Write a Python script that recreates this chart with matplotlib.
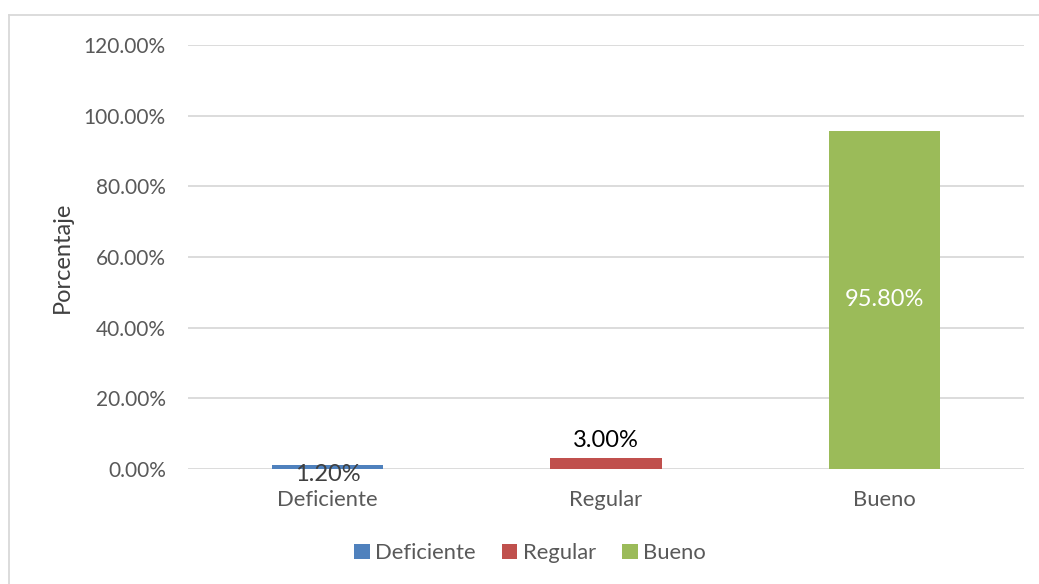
import matplotlib
matplotlib.use("Agg")
import matplotlib.pyplot as plt
from matplotlib.lines import Line2D
from matplotlib.patches import Patch

categories = ["Deficiente", "Regular", "Bueno"]
values = [1.20, 3.00, 95.80]
colors = ["#4F81BD", "#C0504D", "#9BBB59"]
yticks = [0, 20, 40, 60, 80, 100, 120]

plt.rcParams["font.family"] = ["Lato", "DejaVu Sans"]
text_color = "#595959"

fig = plt.figure(figsize=(10.39, 5.84), dpi=100)
ax = fig.add_axes([188 / 1039, 1 - 469 / 584, (1024 - 188) / 1039, (469 - 45) / 584])

x = list(range(len(categories)))
bars = ax.bar(x, values, width=0.40, color=colors, zorder=3)

ax.set_xlim(-0.5, 2.5)
ax.set_ylim(0, 120)
ax.set_yticks(yticks)
ax.set_yticklabels([f"{v:.2f}%" for v in yticks], color=text_color, fontsize=15)
ax.set_xticks(x)
ax.set_xticklabels(categories, color=text_color, fontsize=15.8)
ax.tick_params(axis="both", length=0)
ax.tick_params(axis="y", pad=16)
ax.tick_params(axis="x", pad=15)
ax.grid(axis="y", color="#D9D9D9", linewidth=1.3, zorder=0)
for s in ax.spines.values():
    s.set_visible(False)

ax.set_ylabel("Porcentaje", color="#404040", fontsize=17, labelpad=8)

# value labels
ax.annotate(f"{values[0]:.2f}%", (x[0], values[0]), xytext=(0, -7), textcoords="offset points",
            ha="center", va="center", fontsize=17, color="#404040", zorder=4)
ax.annotate(f"{values[1]:.2f}%", (x[1], values[1]), xytext=(0, 13), textcoords="offset points",
            ha="center", va="center", fontsize=17, color="black", zorder=4)
ax.text(x[2], values[2] / 2, f"{values[2]:.2f}%", ha="center", va="center",
        fontsize=17, color="white", zorder=4)

handles = [Patch(facecolor=c, edgecolor="none") for c in colors]
fig.legend(handles, categories, loc="center", bbox_to_anchor=(530 / 1039, 1 - 553 / 584),
           ncol=3, frameon=False, fontsize=15.8, labelcolor=text_color,
           handlelength=0.7, handleheight=0.7, handletextpad=0.25, columnspacing=1.2)

# chart frame (top and left edges)
fig.add_artist(Line2D([9 / 1039, 1.0], [1 - 15 / 584, 1 - 15 / 584], color="#D9D9D9", linewidth=1.3))
fig.add_artist(Line2D([9 / 1039, 9 / 1039], [0, 1 - 15 / 584], color="#D9D9D9", linewidth=1.3))

fig.savefig("out.png", dpi=100, facecolor="white")
